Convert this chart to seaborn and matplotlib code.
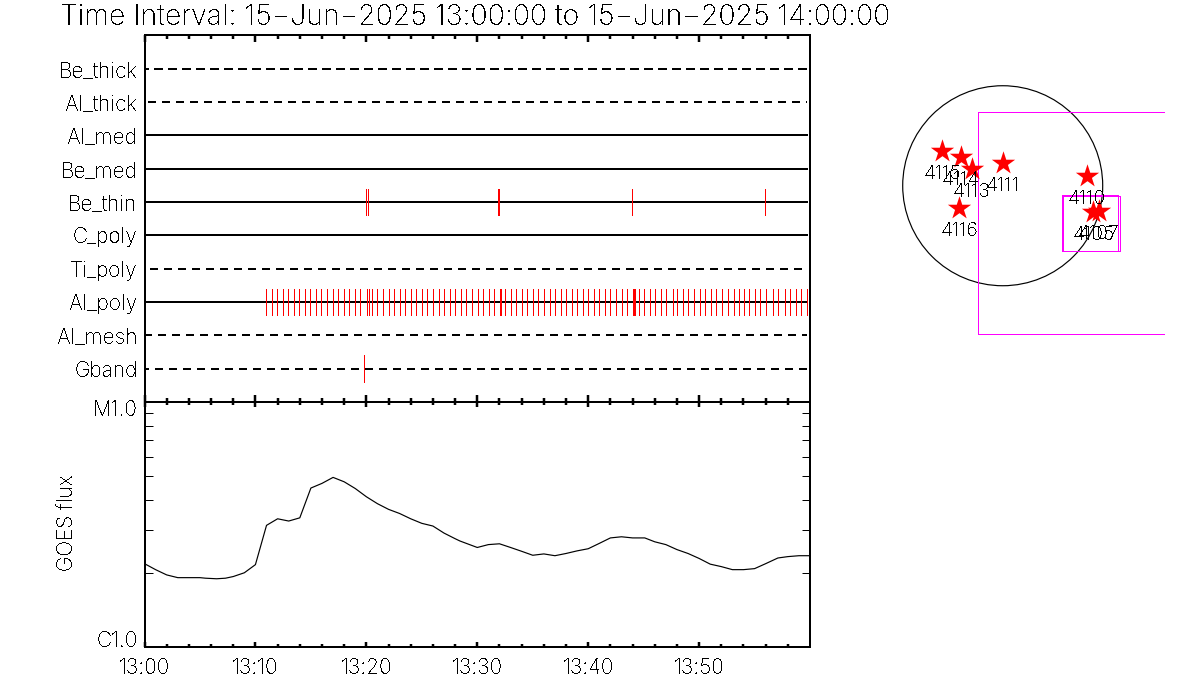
import matplotlib
matplotlib.use("Agg")
import matplotlib.pyplot as plt
from matplotlib.patches import Circle, Rectangle
from matplotlib.transforms import ScaledTranslation
import seaborn as sns
import pandas as pd

sns.set_theme(style="white")
plt.rcParams['font.family'] = ['Inter', 'DejaVu Sans']
plt.rcParams['font.weight'] = 'light'
plt.rcParams['text.antialiased'] = False
plt.rcParams['lines.scale_dashes'] = False
plt.rcParams['lines.antialiased'] = False
plt.rcParams['patch.antialiased'] = False
plt.rcParams['text.color'] = 'black'

title_text = "Time Interval: 15-Jun-2025 13:00:00 to 15-Jun-2025 14:00:00".replace("-", "\u2212")
filters = ["Be_thick", "Al_thick", "Al_med", "Be_med", "Be_thin",
           "C_poly", "Ti_poly", "Al_poly", "Al_mesh", "Gband"]
be_thin_min = [20.0, 20.18, 31.9, 32.0, 43.96, 55.95]
gband_min = [19.82]
al_poly_min = [10.99, 11.47, 11.98, 12.52, 12.97, 13.51, 13.96, 14.50, 14.95, 15.50,
               15.95, 16.49, 17.03, 17.48, 18.02, 18.47, 19.01, 19.46, 20.10, 20.27,
               20.55, 21.00, 21.54, 22.08, 22.53, 23.07, 23.52, 24.06, 24.51, 25.05,
               25.50, 26.05, 26.59, 27.04, 27.58, 28.03, 28.57, 29.02, 29.56, 30.10,
               30.56, 31.10, 31.55, 32.09, 32.18, 32.54, 33.08, 33.53, 34.07, 34.52,
               35.06, 35.51, 36.05, 36.59, 37.04, 37.59, 38.04, 38.58, 39.03, 39.57,
               40.02, 40.56, 41.01, 41.55, 42.00, 42.55, 43.09, 43.54, 44.08, 44.14,
               44.20, 44.62, 45.07, 45.61, 46.06, 46.60, 47.05, 47.60, 48.05, 48.59,
               49.04, 49.58, 50.12, 50.57, 51.11, 51.56, 52.10, 52.56, 53.10, 53.55,
               54.09, 54.54, 55.08, 55.53, 56.07, 56.70, 57.15, 57.70, 58.15, 58.69,
               59.14, 59.68]
goes_min = [0, 1, 2, 3, 4, 5, 5.5, 6.5, 7.3, 8, 9, 10, 11, 12, 13, 14, 15, 16, 17, 18,
            19, 20, 21, 22, 23, 24, 25, 26, 27, 28, 28.44, 30, 31, 32, 33, 34, 35, 36,
            37, 38, 39, 40, 41, 42, 43, 44, 45.1, 46, 47, 48, 49, 50, 51, 52, 53, 54,
            55, 56, 57.1, 58, 59, 59.9]
goes_flux = [2.19, 2.07, 1.97, 1.92, 1.92, 1.92, 1.91, 1.90, 1.91, 1.94, 2.01, 2.17,
             3.14, 3.34, 3.27, 3.37, 4.46, 4.66, 4.93, 4.73, 4.44, 4.11, 3.85, 3.65,
             3.51, 3.34, 3.20, 3.12, 2.92, 2.77, 2.71, 2.55, 2.62, 2.64, 2.55, 2.46,
             2.37, 2.40, 2.36, 2.41, 2.47, 2.52, 2.65, 2.79, 2.82, 2.79, 2.79, 2.69,
             2.62, 2.50, 2.41, 2.30, 2.18, 2.13, 2.07, 2.07, 2.09, 2.19, 2.31, 2.34,
             2.36, 2.36]
ar_names = ["4115", "4114", "4113", "4111", "4110", "4116", "4105", "4107"]
ar_x = [-580, -403, -298, 0, 809, -417, 870, 922]
ar_y = [336, 273, 157, 221, 93, -214, -250, -240]
fov_names = ["large", "small_a", "small_b"]
fov_x0 = [-234, 566, 582]
fov_y0 = [-1427, -624, -630]
fov_w = [2131, 541, 541]
fov_h = [2131, 532, 528]
xtick_labels = ["13:00", "13:10", "13:20", "13:30", "13:40", "13:50"]

W, H = 1200, 700
def pos(x0, y0, x1, y1):
    return [x0 / W, 1 - y1 / H, (x1 - x0) / W, (y1 - y0) / H]

fig = plt.figure(figsize=(12, 7), dpi=100, facecolor="white")
ax_top = fig.add_axes(pos(144.5, 35.2, 809.5, 402.2))
ax_low = fig.add_axes(pos(144.5, 402.2, 809.5, 647))
ax_sun = fig.add_axes(pos(880, 60, 1165, 350))

px = 0.72
XMAX = 59.95
LABEL = 15

# top panel
row_phase = {"Be_thick": 4.2, "Al_thick": 10.8, "Ti_poly": 8.5, "Al_mesh": 0.5, "Gband": 3.5}
for i, name in enumerate(filters):
    y = i + 1
    if name in row_phase:
        ls = (row_phase[name] * px, (8 * px, 6 * px))
    else:
        ls = "-"
    ax_top.plot([0, 59.7], [y, y], color="black", lw=2 * px, ls=ls, zorder=2)
event_rows = {"Be_thin": be_thin_min, "Al_poly": al_poly_min, "Gband": gband_min}
for name, times in event_rows.items():
    y = filters.index(name) + 1
    ax_top.vlines(times, y - 0.4, y + 0.4, color="#ff0000", lw=1 * px, zorder=3,
                  antialiased=False)
ax_top.set_xlim(0, XMAX)
ax_top.set_ylim(11, 0)
ax_top.set_yticks(range(1, 11))
ax_top.set_yticklabels(filters)
ax_top.tick_params(axis="y", length=0, pad=5, labelsize=LABEL, labelcolor="black")
ax_top.set_xticks(range(0, 60, 10))
ax_top.set_xticks(range(0, 60, 2), minor=True)
ax_top.tick_params(axis="x", which="major", direction="in", top=True, bottom=True,
                   length=5, width=2.5 * px, labelbottom=False, color="black")
ax_top.tick_params(axis="x", which="minor", direction="in", top=True, bottom=True,
                   length=2.6, width=2.5 * px, color="black")
for s in ax_top.spines.values():
    s.set_visible(True)
    s.set_color("black")
    s.set_linewidth(2 * px)

# GOES panel
goes = pd.DataFrame({"minute": goes_min, "flux": goes_flux})
sns.lineplot(data=goes, x="minute", y="flux", ax=ax_low, color="black", lw=0.85,
             errorbar=None, estimator=None, sort=False, antialiased=True)
ax_low.set_yscale("log")
ax_low.set_xlim(0, XMAX)
ax_low.set_ylim(1, 10)
ax_low.set_yticks([1, 10])
ax_low.set_yticklabels(["C1.0", "M1.0"])
ax_low.set_yticks([2, 3, 4, 5, 6, 7, 8, 9], minor=True)
ax_low.set_yticklabels([], minor=True)
ax_low.tick_params(axis="y", which="both", direction="in", left=True, right=True,
                   length=5.5, width=1 * px, labelsize=LABEL, labelcolor="black", pad=5,
                   color="black")
low_labels = ax_low.yaxis.get_majorticklabels()
low_labels[0].set_va("bottom")
low_labels[1].set_va("top")
low_labels[0].set_transform(low_labels[0].get_transform()
                            + ScaledTranslation(0, -4 / 100, fig.dpi_scale_trans))
low_labels[1].set_transform(low_labels[1].get_transform()
                            + ScaledTranslation(0, 2 / 100, fig.dpi_scale_trans))
ax_low.set_xticks(range(0, 60, 10))
ax_low.set_xticklabels(xtick_labels)
ax_low.set_xticks(range(0, 60, 2), minor=True)
ax_low.tick_params(axis="x", which="major", direction="in", top=True, bottom=True,
                   length=3.5, width=2.5 * px, labelsize=LABEL, labelcolor="black", pad=8,
                   color="black")
ax_low.tick_params(axis="x", which="minor", direction="in", top=True, bottom=True,
                   length=2, width=2.5 * px, color="black")
ax_low.set_xlabel("")
ax_low.set_ylabel("")
for s in ax_low.spines.values():
    s.set_visible(True)
    s.set_color("black")
    s.set_linewidth(2 * px)
fig.text(67 / W, 1 - 523 / H, "GOES flux", rotation=90, ha="center", va="center",
         fontsize=LABEL, color="black")

# Sun panel
ax_sun.set_xlim(-1178, 1558)
ax_sun.set_ylim(-1577, 1207)
ax_sun.axis("off")
ax_sun.add_patch(Circle((0, 0), 960, fill=False, ec="black", lw=0.85, antialiased=True))
for x0, y0, w, h in zip(fov_x0, fov_y0, fov_w, fov_h):
    ax_sun.add_patch(Rectangle((x0, y0), w, h, fill=False, ec="#ff00ff", lw=1 * px))
ars = pd.DataFrame({"x": ar_x, "y": ar_y})
sns.scatterplot(data=ars, x="x", y="y", ax=ax_sun, marker="*", s=310, color="#ff0000",
                linewidth=0, legend=False, zorder=3)
ax_sun.set_xlabel("")
ax_sun.set_ylabel("")
for name, x, y in zip(ar_names, ar_x, ar_y):
    ax_sun.annotate(name, (x, y), xytext=(0, -10), textcoords="offset points",
                    ha="center", va="top", fontsize=14, color="black")

fig.text(60 / W, 1 - 17.5 / H, title_text, ha="left", va="center", fontsize=20.5, color="black")
fig.savefig("out.png", dpi=100, facecolor="white")
